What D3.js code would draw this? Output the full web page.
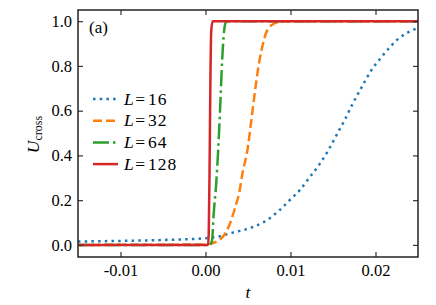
<!DOCTYPE html>
<html>
<head>
<meta charset="utf-8">
<script src="https://cdn.jsdelivr.net/npm/d3@7/dist/d3.min.js"></script>
<style>
  body { margin: 0; background: #fff; }
</style>
</head>
<body>
<div id="chart"></div>
<script>
// Chart size
var svgWidth = 436;
var svgHeight = 305;
var serif = "'Liberation Serif', 'Times New Roman', serif";

var margin = { top: 10, right: 18, bottom: 48, left: 78 };
var chartWidth = svgWidth - margin.left - margin.right;
var chartHeight = svgHeight - margin.top - margin.bottom;

// Data: [t, U_cross]
var seriesNames = ["16", "32", "64", "128"];
var colors = ["#1f77b4", "#ff7f0e", "#2ca02c", "#d62728"];
var dashes = ["2.5,4.2", "9,4", "16,4,2.5,4", null];

var dataL16 = [
  [-0.015, 0.015], [-0.01, 0.018], [-0.005, 0.022], [0, 0.03], [0.0016, 0.038],
  [0.0032, 0.055], [0.0052, 0.075], [0.0072, 0.11], [0.0087, 0.155], [0.0099, 0.20],
  [0.0111, 0.245], [0.0122, 0.30], [0.0134, 0.36], [0.0144, 0.42], [0.0154, 0.49],
  [0.0164, 0.56], [0.0173, 0.63], [0.0183, 0.70], [0.0195, 0.78], [0.0205, 0.83],
  [0.0216, 0.88], [0.0228, 0.925], [0.0244, 0.96], [0.025, 0.97]
];
var dataL32 = [
  [-0.015, 0], [0, 0.002], [0.0008, 0.008], [0.00165, 0.022], [0.0023, 0.05],
  [0.00282, 0.09], [0.0034, 0.156], [0.0040, 0.24], [0.0044, 0.33], [0.0047, 0.38],
  [0.0050, 0.44], [0.0053, 0.53], [0.0056, 0.62], [0.0059, 0.71], [0.0062, 0.79],
  [0.0065, 0.855], [0.0068, 0.905], [0.0071, 0.945], [0.0075, 0.972], [0.0080, 0.988],
  [0.0087, 0.996], [0.0097, 1], [0.025, 1]
];
var dataL64 = [
  [-0.015, 0], [0.0005, 0], [0.0007, 0.01], [0.0008, 0.03], [0.00095, 0.13],
  [0.00126, 0.275], [0.0015, 0.43], [0.00176, 0.647], [0.00196, 0.826], [0.0022, 0.96],
  [0.0024, 0.995], [0.0026, 1], [0.025, 1]
];
var dataL128 = [
  [-0.015, 0], [0.0003, 0], [0.00038, 0.05], [0.00048, 0.35], [0.00058, 0.75],
  [0.00068, 0.96], [0.00085, 1], [0.025, 1]
];
var allSeries = [dataL16, dataL32, dataL64, dataL128];

var xTicks = [-0.01, 0.00, 0.01, 0.02];
var xTickLabels = ["-0.01", "0.00", "0.01", "0.02"];
var yTicks = [0.0, 0.2, 0.4, 0.6, 0.8, 1.0];

var svg = d3.select("#chart")
  .append("svg")
  .attr("width", svgWidth)
  .attr("height", svgHeight)
  .style("font-family", serif);

var chartGroup = svg.append("g")
  .attr("transform", `translate(${margin.left}, ${margin.top})`);

// Scales
var xScale = d3.scaleLinear().domain([-0.015, 0.025]).range([0, chartWidth]);
var yScale = d3.scaleLinear().domain([-0.054, 1.05]).range([chartHeight, 0]);

// Clip curves to the frame
svg.append("defs").append("clipPath").attr("id", "clip")
  .append("rect").attr("width", chartWidth).attr("height", chartHeight);

var line = d3.line()
  .x(function (d) { return xScale(d[0]); })
  .y(function (d) { return yScale(d[1]); })
  .curve(d3.curveMonotoneX);

chartGroup.append("g").attr("clip-path", "url(#clip)")
  .selectAll("path")
  .data(allSeries)
  .enter()
  .append("path")
  .attr("d", line)
  .attr("fill", "none")
  .attr("stroke", function (d, i) { return colors[i]; })
  .attr("stroke-width", 2.5)
  .attr("stroke-dasharray", function (d, i) { return dashes[i]; });

// Axes with inward ticks on all sides
var tickLen = 5;
var bottomAxis = d3.axisBottom(xScale).tickValues(xTicks)
  .tickFormat(function (d, i) { return xTickLabels[i]; })
  .tickSizeInner(-tickLen).tickSizeOuter(0).tickPadding(7.5);
var topAxis = d3.axisTop(xScale).tickValues(xTicks).tickFormat("")
  .tickSizeInner(-tickLen).tickSizeOuter(0);
var leftAxis = d3.axisLeft(yScale).tickValues(yTicks).tickFormat(d3.format(".1f"))
  .tickSizeInner(-tickLen).tickSizeOuter(0).tickPadding(6);
var rightAxis = d3.axisRight(yScale).tickValues(yTicks).tickFormat("")
  .tickSizeInner(-tickLen).tickSizeOuter(0);

var gx = chartGroup.append("g").attr("transform", `translate(0, ${chartHeight})`).call(bottomAxis);
var gt = chartGroup.append("g").call(topAxis);
var gy = chartGroup.append("g").call(leftAxis);
var gr = chartGroup.append("g").attr("transform", `translate(${chartWidth}, 0)`).call(rightAxis);

[gx, gt, gy, gr].forEach(function (g) {
  g.attr("font-family", null).attr("font-size", null);
  g.select(".domain").remove();
  g.selectAll(".tick line").attr("stroke", "#333").attr("stroke-width", 1.2);
  g.selectAll(".tick text")
    .style("font-family", serif)
    .style("font-size", "16.5px")
    .attr("fill", "#000");
});

// Frame
chartGroup.append("rect")
  .attr("width", chartWidth)
  .attr("height", chartHeight)
  .attr("fill", "none")
  .attr("stroke", "#222")
  .attr("stroke-width", 1.5);

// Panel label
chartGroup.append("text")
  .attr("x", 11)
  .attr("y", 23)
  .style("font-family", serif)
  .style("font-size", "17px")
  .text("(a)");

// Legend
var legend = chartGroup.append("g").attr("transform", "translate(15, 89)");
var rowH = 21.7;
seriesNames.forEach(function (name, i) {
  var row = legend.append("g").attr("transform", `translate(0, ${i * rowH})`);
  row.append("line")
    .attr("x1", 0).attr("x2", 25)
    .attr("y1", 0).attr("y2", 0)
    .attr("stroke", colors[i])
    .attr("stroke-width", 2.5)
    .attr("stroke-dasharray", dashes[i]);
  var t = row.append("text").attr("x", 31).attr("y", 5.5)
    .style("font-family", serif)
    .style("font-size", "17.5px");
  t.append("tspan").style("font-style", "italic").text("L");
  t.append("tspan").attr("dx", 1.5).text("=");
  t.append("tspan").attr("dx", 3).style("letter-spacing", "1px").text(name);
});

// Axis labels
var yLabel = chartGroup.append("text")
  .attr("transform", `translate(${-38.7}, ${chartHeight / 2 + 1}) rotate(-90)`)
  .attr("text-anchor", "middle")
  .style("font-family", serif)
  .style("font-size", "17.5px");
yLabel.append("tspan").style("font-style", "italic").text("U");
yLabel.append("tspan").attr("dy", 3).style("font-size", "12px").text("cross");

chartGroup.append("text")
  .attr("x", chartWidth / 2)
  .attr("y", chartHeight + 41)
  .attr("text-anchor", "middle")
  .style("font-family", serif)
  .style("font-size", "17.5px")
  .style("font-style", "italic")
  .text("t");
</script>
</body>
</html>
